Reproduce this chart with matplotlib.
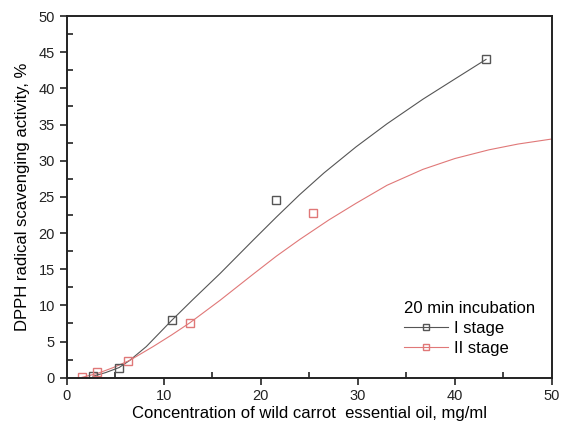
import matplotlib
matplotlib.use("Agg")
import matplotlib.pyplot as plt
from matplotlib.ticker import MultipleLocator
from matplotlib.lines import Line2D

plt.rcParams['font.family'] = ['Liberation Sans', 'DejaVu Sans']

# measured points
stage1_x = [2.7, 5.4, 10.8, 21.6, 43.2]
stage1_y = [0.2, 1.4, 8.0, 24.5, 44.1]
stage2_x = [1.58, 3.17, 6.33, 12.67, 25.33]
stage2_y = [0.05, 0.8, 2.35, 7.6, 22.8]

# fitted curves
fit1_x = [2.7, 4.0, 5.4, 6.5, 8.2, 10.8, 13.0, 15.8, 19.2, 21.6, 24.0, 26.5, 29.8, 33.0, 36.7, 40.0, 43.2]
fit1_y = [0.2, 0.7, 1.4, 2.4, 4.3, 7.9, 10.8, 14.4, 19.0, 22.2, 25.3, 28.3, 31.9, 35.1, 38.5, 41.3, 44.0]
fit2_x = [1.58, 3.2, 4.8, 6.5, 8.9, 10.8, 12.7, 15.8, 19.2, 21.6, 24.0, 27.0, 29.8, 33.0, 36.7, 40.0, 43.5, 46.5, 50.0]
fit2_y = [0.05, 0.6, 1.4, 2.4, 4.3, 5.9, 7.6, 10.7, 14.3, 16.8, 19.1, 21.8, 24.1, 26.6, 28.8, 30.3, 31.5, 32.3, 33.0]

c1 = '#555555'
c2 = '#e07878'

fig = plt.figure(figsize=(5.61, 4.29), dpi=100)
ax = fig.add_axes([0.1189, 0.1196, 0.8651, 0.8431])

ax.plot(fit1_x, fit1_y, color=c1, lw=0.8)
ax.plot(fit2_x, fit2_y, color=c2, lw=0.8)
ax.plot(stage1_x, stage1_y, ls='none', marker='s', ms=6, mfc='none', mec=c1, mew=1.0)
ax.plot(stage2_x, stage2_y, ls='none', marker='s', ms=6, mfc='none', mec=c2, mew=1.0)

ax.set_xlim(0, 50)
ax.set_ylim(0, 50)
ax.xaxis.set_major_locator(MultipleLocator(10))
ax.xaxis.set_minor_locator(MultipleLocator(5))
ax.yaxis.set_major_locator(MultipleLocator(5))
ax.yaxis.set_minor_locator(MultipleLocator(2.5))
ax.tick_params(which='major', direction='out', length=5, width=1.2, labelsize=10.5, colors='#222222')
ax.tick_params(which='minor', direction='in', length=4, width=1.2, colors='#222222')
for s in ax.spines.values():
    s.set_linewidth(1.4)
    s.set_color('#222222')

ax.set_xlabel('Concentration of wild carrot  essential oil, mg/ml', fontsize=12, labelpad=2)
ax.set_ylabel('DPPH radical scavenging activity, %', fontsize=12, labelpad=6)

h1 = Line2D([], [], color=c1, lw=0.8, marker='s', ms=5, mfc='none', mec=c1)
h2 = Line2D([], [], color=c2, lw=0.8, marker='s', ms=5, mfc='none', mec=c2)
leg = ax.legend([h1, h2], ['I stage', 'II stage'], title='20 min incubation',
                loc='lower right', bbox_to_anchor=(0.99, 0.028), frameon=False,
                fontsize=12, title_fontsize=12, handlelength=2.6,
                handletextpad=0.4, labelspacing=0.3, borderpad=0.2)
leg._legend_box.align = 'left'

fig.savefig('out.png', dpi=100)
